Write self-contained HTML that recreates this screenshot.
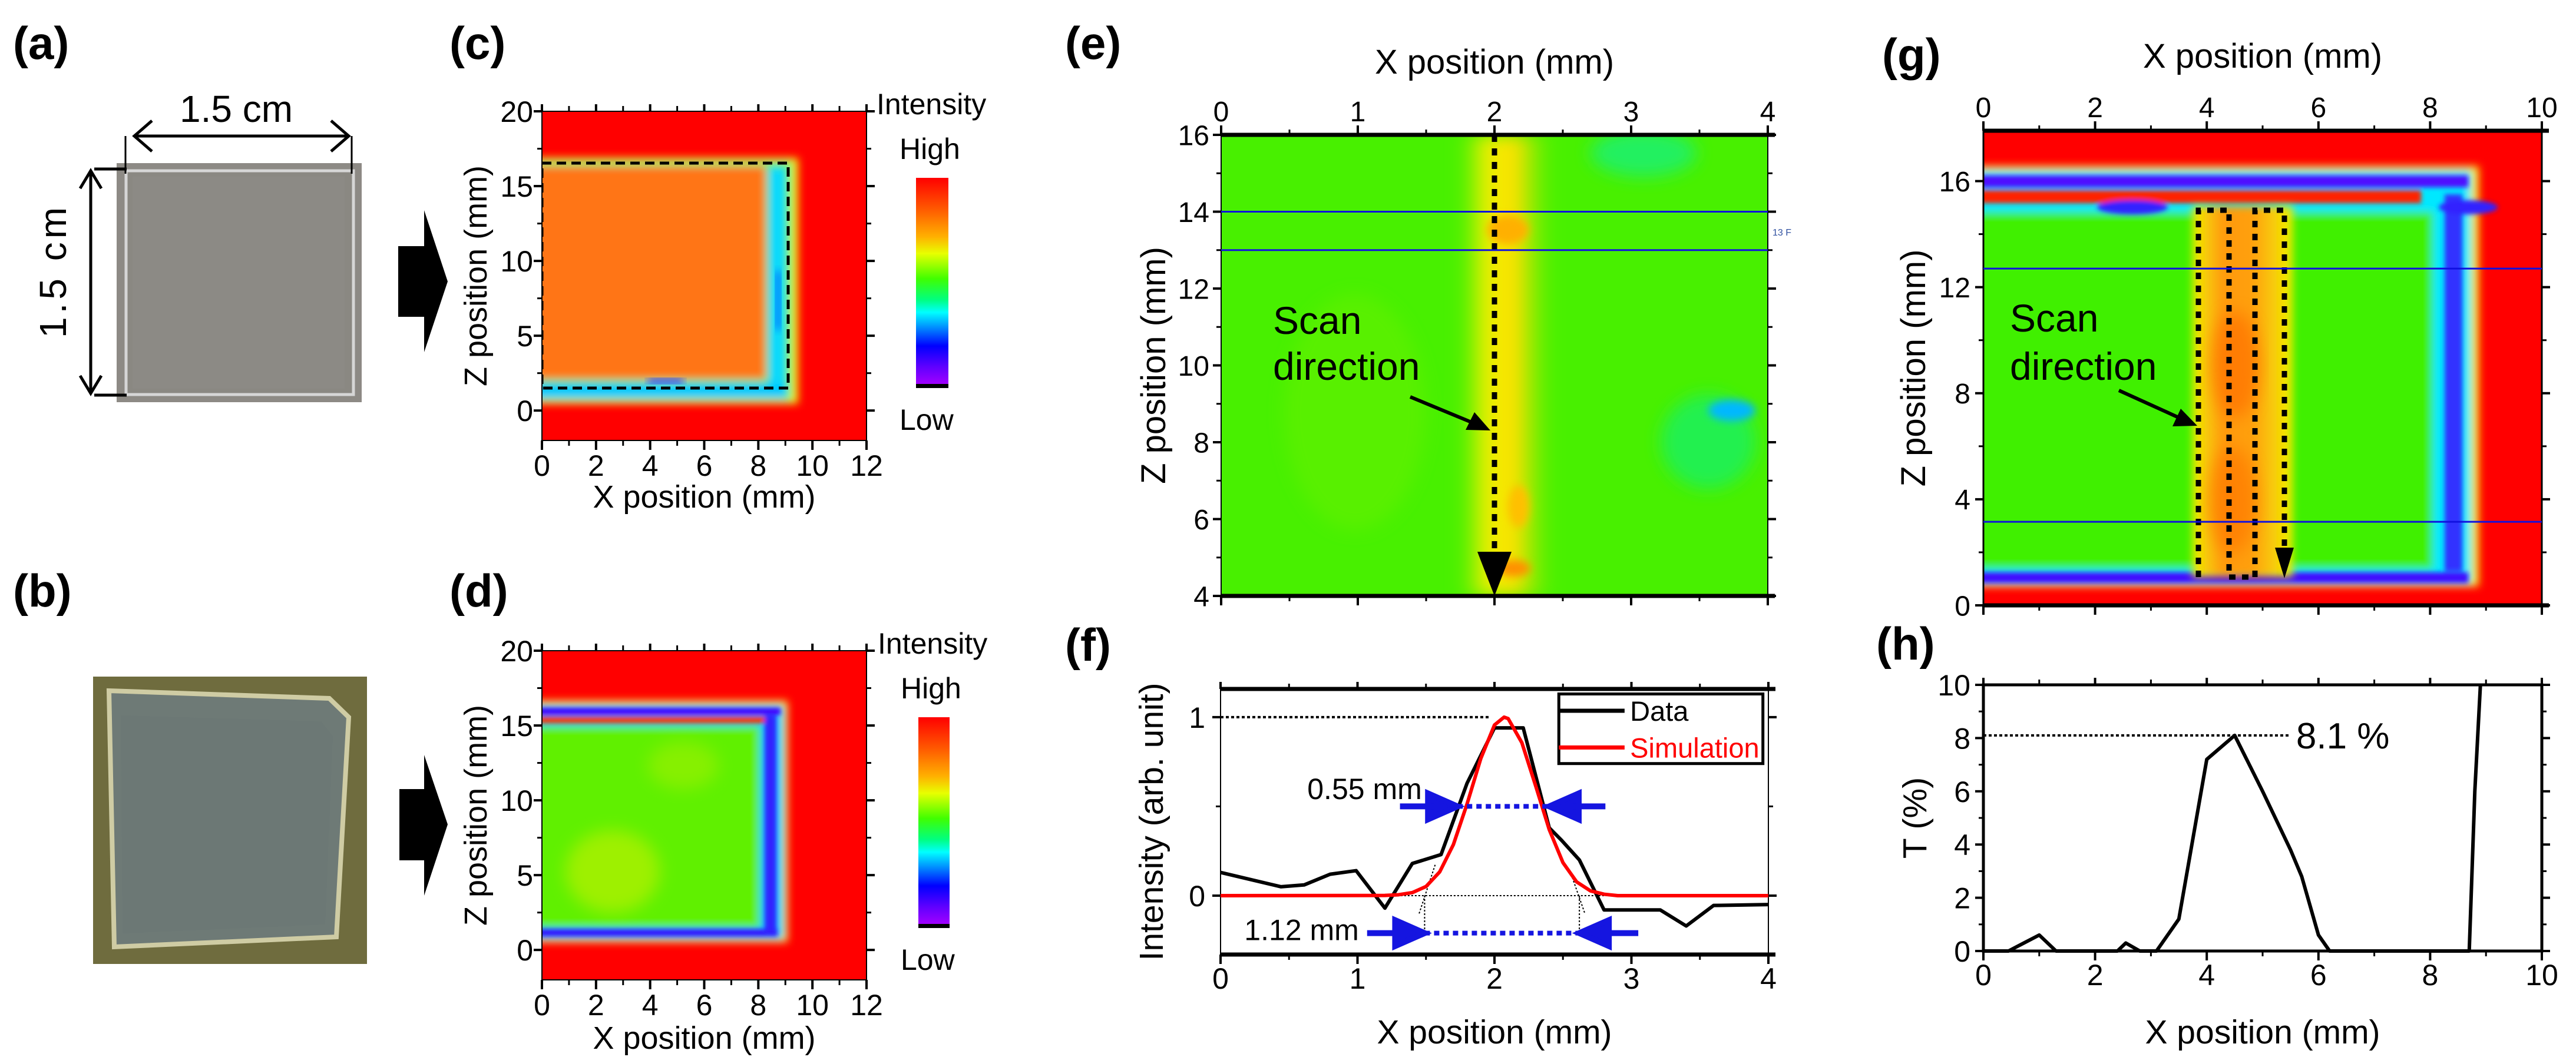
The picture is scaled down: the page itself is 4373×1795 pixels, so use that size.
<!DOCTYPE html>
<html><head><meta charset="utf-8"><style>
html,body{margin:0;padding:0;background:#fff;}
svg{display:block;font-family:"Liberation Sans",Arial,sans-serif;}
</style></head><body>
<svg id="fig" width="4373" height="1795" viewBox="0 0 4373 1795" xmlns="http://www.w3.org/2000/svg">
<defs>
<filter id="bl" x="-10%" y="-10%" width="120%" height="120%"><feGaussianBlur stdDeviation="7"/></filter>
<filter id="bls" x="-10%" y="-30%" width="120%" height="160%"><feGaussianBlur stdDeviation="4"/></filter>
<filter id="bl2" x="-20%" y="-20%" width="140%" height="140%"><feGaussianBlur stdDeviation="14"/></filter>
<linearGradient id="cbar" x1="0" y1="0" x2="0" y2="1">
<stop offset="0" stop-color="#ff0000"/><stop offset="0.15" stop-color="#ff5a00"/><stop offset="0.28" stop-color="#ffb000"/><stop offset="0.36" stop-color="#e8ff00"/><stop offset="0.48" stop-color="#40ff00"/><stop offset="0.58" stop-color="#00ff80"/><stop offset="0.64" stop-color="#00ffff"/><stop offset="0.72" stop-color="#0080ff"/><stop offset="0.8" stop-color="#0000ff"/><stop offset="0.9" stop-color="#6000ff"/><stop offset="0.98" stop-color="#a000ff"/><stop offset="0.98" stop-color="#000"/><stop offset="1" stop-color="#000"/>
</linearGradient>
<linearGradient id="eStripe" x1="0" y1="0" x2="1" y2="0">
<stop offset="0" stop-color="#60f000" stop-opacity="0"/><stop offset="0.3" stop-color="#e8f000"/><stop offset="0.6" stop-color="#ffe000"/><stop offset="1" stop-color="#80f000" stop-opacity="0"/>
</linearGradient>
<linearGradient id="gCol" x1="0" y1="0" x2="1" y2="0">
<stop offset="0" stop-color="#f0f000"/><stop offset="0.3" stop-color="#ff9a10"/><stop offset="0.6" stop-color="#ffa010"/><stop offset="1" stop-color="#f0f000"/>
</linearGradient>
<clipPath id="clipC"><rect x="920" y="189" width="551" height="559"/></clipPath>
<clipPath id="clipD"><rect x="920" y="1105" width="551" height="559"/></clipPath>
<clipPath id="clipE"><rect x="2073" y="229" width="928" height="783"/></clipPath>
<clipPath id="clipG"><rect x="3367" y="222" width="948" height="806"/></clipPath>
</defs>

<g font-weight="bold" font-size="78">
<text x="22" y="100">(a)</text>
<text x="22" y="1030">(b)</text>
<text x="763" y="100">(c)</text>
<text x="763" y="1030">(d)</text>
<text x="1808" y="100">(e)</text>
<text x="1808" y="1122">(f)</text>
<text x="3195" y="120">(g)</text>
<text x="3185" y="1120">(h)</text>
</g>

<g>
<rect x="198" y="277" width="416" height="406" fill="#8d8a85"/>
<rect x="214" y="290" width="386" height="380" fill="#8a8882" stroke="#d6d6d6" stroke-width="5"/>
<rect x="225" y="300" width="360" height="360" fill="#8e8c87" opacity="0.6"/>
</g>
<g stroke="#000" stroke-width="5" fill="none">
<line x1="228" y1="231" x2="592" y2="231"/>
<polyline points="258,205 228,231 258,257"/><polyline points="562,205 592,231 562,257"/>
<line x1="213" y1="231" x2="213" y2="295" stroke-width="3"/><line x1="597" y1="231" x2="597" y2="295" stroke-width="3"/>
<line x1="154" y1="290" x2="154" y2="668"/>
<polyline points="136,320 154,290 172,320"/><polyline points="136,638 154,668 172,638"/>
<line x1="160" y1="287" x2="215" y2="287" stroke-width="5"/><line x1="160" y1="671" x2="215" y2="671" stroke-width="5"/>
</g>
<text x="401" y="207" font-size="64" text-anchor="middle">1.5 cm</text>
<text transform="translate(112,460) rotate(-90)" font-size="64" text-anchor="middle" letter-spacing="6">1.5 cm</text>

<g>
<rect x="158" y="1149" width="465" height="488" fill="#6f6c3e"/>
<polygon points="185,1173 559,1186 592,1218 571,1591 194,1608" fill="#6e7a76" stroke="#cfcca4" stroke-width="8"/>
<polygon points="205,1215 545,1225 565,1250 552,1570 208,1585" fill="#6c7876" opacity="0.8"/>
</g>

<polygon points="676,418 720,418 720,357 760,478 720,598 720,538 676,538" fill="#000"/>
<polygon points="678,1340 720,1340 720,1282 760,1400 720,1521 720,1461 678,1461" fill="#000"/>

<g clip-path="url(#clipC)">
<rect x="920" y="189" width="551" height="559" fill="#ff0000"/>
<g filter="url(#bl)">
<rect x="905" y="268" width="450" height="418" fill="#e8f000"/>
<rect x="905" y="275" width="438" height="404" fill="#40f080"/>
<rect x="1306" y="285" width="26" height="385" fill="#00d8ff"/>
<rect x="905" y="652" width="430" height="24" fill="#00c8ff"/>
<rect x="905" y="282" width="395" height="362" fill="#ff7418"/>
</g>
<rect x="1100" y="642" width="60" height="10" fill="#2040ff" filter="url(#bl)"/>
<rect x="1316" y="460" width="10" height="100" fill="#0070ff" filter="url(#bl)"/>
<rect x="920" y="277" width="418" height="382" fill="none" stroke="#000" stroke-width="5" stroke-dasharray="16,9"/>
</g>

<g clip-path="url(#clipD)">
<rect x="920" y="1105" width="551" height="559" fill="#ff0000"/>
<g filter="url(#bl)">
<rect x="905" y="1190" width="432" height="410" fill="#f0f000"/>
<rect x="905" y="1198" width="425" height="396" fill="#00d0ff"/>
<rect x="905" y="1232" width="385" height="344" fill="#60f000"/>
</g>
<g filter="url(#bls)">
<rect x="905" y="1202" width="420" height="12" fill="#4000ff"/>
<rect x="905" y="1217" width="400" height="11" fill="#ff3000"/>
<rect x="905" y="1578" width="415" height="12" fill="#3010ff"/>
<rect x="1298" y="1215" width="20" height="370" fill="#3020ff"/>
</g>
<g filter="url(#bl2)" opacity="0.6"><ellipse cx="1040" cy="1480" rx="80" ry="70" fill="#c8f000"/><ellipse cx="1160" cy="1300" rx="60" ry="40" fill="#a0f000"/></g>
</g>

<g clip-path="url(#clipE)">
<rect x="2073" y="229" width="928" height="783" fill="#48f000"/>
<g filter="url(#bl2)">
<rect x="2470" y="229" width="170" height="783" fill="url(#eStripe)"/>
<ellipse cx="2790" cy="260" rx="90" ry="40" fill="#20f060"/>
<ellipse cx="2300" cy="700" rx="120" ry="200" fill="#58f000"/>
<ellipse cx="2900" cy="750" rx="80" ry="80" fill="#20f050"/>
</g>
<g filter="url(#bl)">
<ellipse cx="2560" cy="390" rx="35" ry="25" fill="#ffb000"/>
<ellipse cx="2570" cy="965" rx="28" ry="14" fill="#ff9000"/>
<ellipse cx="2578" cy="860" rx="18" ry="36" fill="#ffc000"/>
<ellipse cx="2940" cy="697" rx="40" ry="18" fill="#00b8ff"/>
</g>
</g>

<g clip-path="url(#clipG)">
<rect x="3367" y="222" width="948" height="806" fill="#ff0000"/>
<g filter="url(#bl)">
<rect x="3350" y="282" width="858" height="714" fill="#f0f000"/>
<rect x="3350" y="290" width="845" height="700" fill="#00e8ff"/>
<rect x="3350" y="360" width="780" height="606" fill="#40f000"/>
</g>
<g filter="url(#bls)">
<rect x="3350" y="298" width="840" height="20" fill="#5010ff"/>
<rect x="3350" y="323" width="760" height="22" fill="#ff2000"/>
<rect x="3350" y="972" width="840" height="18" fill="#4010ff"/>
<rect x="4150" y="330" width="30" height="640" fill="#3030ff"/>
<ellipse cx="3620" cy="352" rx="60" ry="12" fill="#3020ff"/>
<ellipse cx="4190" cy="352" rx="50" ry="12" fill="#3020ff"/>
</g>
<rect x="3722" y="350" width="170" height="630" fill="url(#gCol)" filter="url(#bl)"/>
<g filter="url(#bl2)" opacity="0.7"><ellipse cx="3795" cy="620" rx="40" ry="90" fill="#ff7000"/><ellipse cx="3790" cy="850" rx="40" ry="90" fill="#ff7800"/></g>
</g>

<rect x="1555" y="302" width="55" height="357" fill="url(#cbar)"/>
<rect x="1559" y="1218" width="53" height="358" fill="url(#cbar)"/>
<g font-size="50">
<text x="1488" y="194">Intensity</text>
<text x="1527" y="270">High</text>
<text x="1527" y="730">Low</text>
<text x="1490" y="1110">Intensity</text>
<text x="1529" y="1186">High</text>
<text x="1529" y="1647">Low</text>
</g>

<g>
<line x1="2537" y1="229" x2="2537" y2="940" stroke="#000" stroke-width="9" stroke-dasharray="12,11"/>
<polygon points="2508,937 2566,937 2537,1012" fill="#000"/>
<line x1="2394" y1="674" x2="2505" y2="720" stroke="#000" stroke-width="6"/>
<polygon points="2530,731 2488,730 2503,700" fill="#000"/>
</g>
<text x="2161" y="567" font-size="66">Scan</text>
<text x="2161" y="645" font-size="66">direction</text>
<text x="3009" y="400" font-size="16" fill="#3050a0">13 F</text>

<g fill="none" stroke="#000" stroke-width="9" stroke-dasharray="11,11">
<polyline points="3732,980 3732,357 3784,357 3784,980 3828,980 3828,357 3878,357 3878,935"/>
</g>
<polygon points="3862,930 3894,930 3878,982" fill="#000"/>
<line x1="3597" y1="663" x2="3705" y2="712" stroke="#000" stroke-width="6"/>
<polygon points="3730,723 3688,724 3702,694" fill="#000"/>
<text x="3412" y="563" font-size="66">Scan</text>
<text x="3412" y="645" font-size="66">direction</text>

<g id="axes"></g>
</svg>
<script>
const NS='http://www.w3.org/2000/svg';
const axes=document.getElementById('axes');

const fDataX=[0,0.44,0.61,0.8,0.99,1.2,1.4,1.61,1.8,2.0,2.21,2.4,2.49,2.62,2.8,3.21,3.4,3.6,4.0];
const fDataY=[0.13,0.05,0.06,0.12,0.14,-0.07,0.18,0.23,0.63,0.94,0.94,0.38,0.31,0.2,-0.08,-0.08,-0.17,-0.055,-0.05];
const fSimX=[0,1.2,1.3,1.4,1.5,1.6,1.7,1.8,1.9,2.0,2.07,2.1,2.2,2.3,2.4,2.5,2.6,2.7,2.8,2.9,4.0];
const fSimY=[0,0.001,0.005,0.017,0.051,0.133,0.286,0.514,0.768,0.956,1,0.992,0.857,0.617,0.37,0.185,0.077,0.027,0.008,0,0];
const hX=[0,0.45,1.0,1.3,2.4,2.55,2.8,3.1,3.5,4.0,4.5,5.0,5.5,5.7,6.0,6.2,8.7,8.8,8.9];
const hY=[0,0,0.6,0,0,0.3,0,0,1.2,7.2,8.1,6.0,3.8,2.8,0.6,0,0,6,10];
const cXTicks=[0,2,4,6,8,10,12];
const cYTicks=[0,5,10,15,20];
const eXTicks=[0,1,2,3,4];
const eYTicks=[4,6,8,10,12,14,16];
const gXTicks=[0,2,4,6,8,10];
const gYTicks=[0,4,8,12,16];
const fXTicks=[0,1,2,3,4];
const fYTicks=[0,1];
const hXTicks=[0,2,4,6,8,10];
const hYTicks=[0,2,4,6,8,10];

function mk(tag,attrs,parent){const el=document.createElementNS(NS,tag);for(const k in attrs)el.setAttribute(k,attrs[k]);(parent||axes).appendChild(el);return el;}
function scale(d0,d1,p0,p1){return v=>p0+(v-d0)/(d1-d0)*(p1-p0);}

function panel(o){
  const sx=scale(o.xmin,o.xmax,o.x0,o.x1), sy=scale(o.ymin,o.ymax,o.y1,o.y0);
  const g=mk('g',{});
  
  
  const fr=mk('rect',{x:o.x0,y:o.y0,width:o.x1-o.x0,height:o.y1-o.y0,fill:'none',stroke:'#000','stroke-width':o.fw||3},g);
  
  
  if(o.thickH){
    mk('line',{x1:o.x0,y1:o.y0,x2:o.x1+12,y2:o.y0,stroke:'#000','stroke-width':7},g);
    mk('line',{x1:o.x0,y1:o.y1,x2:o.x1+12,y2:o.y1,stroke:'#000','stroke-width':7},g);
  }
  o.xt.forEach((v,i)=>{
    const x=sx(v);
    mk('line',{x1:x,y1:o.y0,x2:x,y2:o.y0-(o.xTop?16:12),stroke:'#000','stroke-width':4},g);
    mk('line',{x1:x,y1:o.y1,x2:x,y2:o.y1+16,stroke:'#000','stroke-width':4},g);
    if(i<o.xt.length-1){const m=sx((v+o.xt[i+1])/2);
      mk('line',{x1:m,y1:o.y0,x2:m,y2:o.y0-9,stroke:'#000','stroke-width':3},g);
      mk('line',{x1:m,y1:o.y1,x2:m,y2:o.y1+9,stroke:'#000','stroke-width':3},g);}
    const t=mk('text',{x:x,y:o.xTop?o.y0-o.xlOff:o.y1+o.xlOff,'font-size':o.fs,'text-anchor':'middle'},g);
    t.textContent=v;
    
    
  });
  o.yt.forEach((v,i)=>{
    const y=sy(v);
    mk('line',{x1:o.x0,y1:y,x2:o.x0-14,y2:y,stroke:'#000','stroke-width':4},g);
    mk('line',{x1:o.x1,y1:y,x2:o.x1+14,y2:y,stroke:'#000','stroke-width':4},g);
    if(i<o.yt.length-1){const m=sy((v+o.yt[i+1])/2);
      mk('line',{x1:o.x0,y1:m,x2:o.x0-8,y2:m,stroke:'#000','stroke-width':3},g);
      mk('line',{x1:o.x1,y1:m,x2:o.x1+8,y2:m,stroke:'#000','stroke-width':3},g);}
    const t=mk('text',{x:o.ylx,y:y+o.fs*0.36,'font-size':o.fs,'text-anchor':'end'},g);
    t.textContent=v;
    
    
  });
  const xt=mk('text',{x:(o.x0+o.x1)/2,y:o.xtY,'font-size':o.tfs,'text-anchor':'middle'},g);
  xt.textContent=o.xTitle;
  
  
  const yt=mk('text',{transform:`translate(${o.ytX},${(o.y0+o.y1)/2}) rotate(-90)`,'font-size':o.tfs,'text-anchor':'middle'},g);
  yt.textContent=o.yTitle;
  
  
  return {sx,sy,g};
}

panel({name:'c',x0:920,x1:1471,y0:189,y1:748,xmin:0,xmax:12,ymin:-2,ymax:20,xt:cXTicks,yt:cYTicks,fs:50,xlOff:60,ylx:905,xTitle:'X position (mm)',yTitle:'Z position (mm)',xtY:862,ytX:826,tfs:54,fw:2});
panel({name:'d',x0:920,x1:1471,y0:1105,y1:1664,xmin:0,xmax:12,ymin:-2,ymax:20,xt:cXTicks,yt:cYTicks,fs:50,xlOff:60,ylx:905,xTitle:'X position (mm)',yTitle:'Z position (mm)',xtY:1781,ytX:826,tfs:54,fw:2});
const E=panel({name:'e',x0:2073,x1:3001,y0:229,y1:1012,xmin:0,xmax:4,ymin:4,ymax:16,xt:eXTicks,yt:eYTicks,fs:48,xTop:true,xlOff:23,ylx:2053,xTitle:'X position (mm)',yTitle:'Z position (mm)',xtY:125,ytX:1978,tfs:58,fw:2,thickH:true});
const G=panel({name:'g',x0:3367,x1:4315,y0:222,y1:1028,xmin:0,xmax:10,ymin:0,ymax:17.9,xt:gXTicks,yt:gYTicks,fs:48,xTop:true,xlOff:23,ylx:3345,xTitle:'X position (mm)',yTitle:'Z position (mm)',xtY:115,ytX:3268,tfs:58,fw:3,thickH:true});
const F=panel({name:'f',x0:2072,x1:3002,y0:1170,y1:1621,xmin:0,xmax:4,ymin:-0.33,ymax:1.158,xt:fXTicks,yt:fYTicks,fs:50,xlOff:58,ylx:2046,xTitle:'X position (mm)',yTitle:'Intensity (arb. unit)',xtY:1772,ytX:1974,tfs:57,fw:2,thickH:true});
const H=panel({name:'h',x0:3367,x1:4315,y0:1163,y1:1615,xmin:0,xmax:10,ymin:0,ymax:10,xt:hXTicks,yt:hYTicks,fs:50,xlOff:58,ylx:3345,xTitle:'X position (mm)',yTitle:'T (%)',xtY:1772,ytX:3270,tfs:57,fw:5});

[14,13].forEach(v=>{const l=mk('line',{x1:2073,x2:3001,y1:E.sy(v),y2:E.sy(v),stroke:'#1010e0','stroke-width':3});
  
  });
[12.7,3.15].forEach(v=>{const l=mk('line',{x1:3367,x2:4315,y1:G.sy(v),y2:G.sy(v),stroke:'#1010e0','stroke-width':3});
  
  });

function pts(xs,ys,P){return xs.map((x,i)=>P.sx(x)+','+P.sy(ys[i])).join(' ');}
const dl1=mk('line',{x1:F.sx(0),x2:F.sx(1.97),y1:F.sy(1),y2:F.sy(1),stroke:'#000','stroke-width':4,'stroke-dasharray':'5,4'});


const dl0=mk('line',{x1:F.sx(0.98),x2:F.sx(3.1),y1:F.sy(0),y2:F.sy(0),stroke:'#000','stroke-width':2,'stroke-dasharray':'3,3'});


[[1.45,-0.1,1.57,0.18],[2.56,0.12,2.66,-0.1],[1.49,0,1.49,-0.21],[2.62,0,2.62,-0.21]].forEach(a=>{
  const l=mk('line',{x1:F.sx(a[0]),y1:F.sy(a[1]),x2:F.sx(a[2]),y2:F.sy(a[3]),stroke:'#000','stroke-width':2,'stroke-dasharray':'3,3'});
  
  });
const dLine=mk('polyline',{points:pts(fDataX,fDataY,F),fill:'none',stroke:'#000','stroke-width':6,'stroke-linejoin':'round'});


const sLine=mk('polyline',{points:pts(fSimX,fSimY,F),fill:'none',stroke:'#ff0000','stroke-width':6,'stroke-linejoin':'round'});


function widthMark(y,xa,xb,xl,xr,label,lx,ly,nm){
  const d=mk('line',{x1:F.sx(xa),x2:F.sx(xb),y1:F.sy(y),y2:F.sy(y),stroke:'#1515e0','stroke-width':8,'stroke-dasharray':'9,7'});
  
  
  const a1=mk('path',{d:`M${F.sx(xl)},${F.sy(y)} H${F.sx(xa)-40} M${F.sx(xa)},${F.sy(y)} l-50,-22 v44 z`,stroke:'#1515e0','stroke-width':10,fill:'#1515e0'});
  
  
  const a2=mk('path',{d:`M${F.sx(xr)},${F.sy(y)} H${F.sx(xb)+40} M${F.sx(xb)},${F.sy(y)} l50,-22 v44 z`,stroke:'#1515e0','stroke-width':10,fill:'#1515e0'});
  
  
  const t=mk('text',{x:F.sx(lx),y:F.sy(ly)+18,'font-size':50,'text-anchor':'end'});
  t.textContent=label;
  
  
}
widthMark(0.5,1.73,2.4,1.31,2.81,'0.55 mm',1.47,0.6,'fwhm');
widthMark(-0.21,1.49,2.62,1.07,3.05,'1.12 mm',1.01,-0.19,'base-width');
const lg=mk('g',{});


mk('rect',{x:F.sx(2.47),y:F.sy(1.13),width:F.sx(3.96)-F.sx(2.47),height:F.sy(0.74)-F.sy(1.13),fill:'#fff',stroke:'#000','stroke-width':5},lg);
mk('line',{x1:F.sx(2.47),x2:F.sx(2.95),y1:F.sy(1.036),y2:F.sy(1.036),stroke:'#000','stroke-width':7},lg);
mk('line',{x1:F.sx(2.47),x2:F.sx(2.95),y1:F.sy(0.83),y2:F.sy(0.83),stroke:'#ff0000','stroke-width':7},lg);
const l1=mk('text',{x:F.sx(2.99),y:F.sy(1.036)+17,'font-size':47},lg);l1.textContent='Data';


const l2=mk('text',{x:F.sx(2.99),y:F.sy(0.83)+17,'font-size':47,fill:'#ff0000'},lg);l2.textContent='Simulation';



const hg=mk('line',{x1:H.sx(0),x2:H.sx(5.5),y1:H.sy(8.1),y2:H.sy(8.1),stroke:'#000','stroke-width':4,'stroke-dasharray':'5,4'});


const hl=mk('polyline',{points:pts(hX,hY,H),fill:'none',stroke:'#000','stroke-width':6,'stroke-linejoin':'round'});


const ht=mk('text',{x:H.sx(5.6),y:H.sy(8.1)+22,'font-size':62});
ht.textContent='8.1 %';


</script>
</body></html>
